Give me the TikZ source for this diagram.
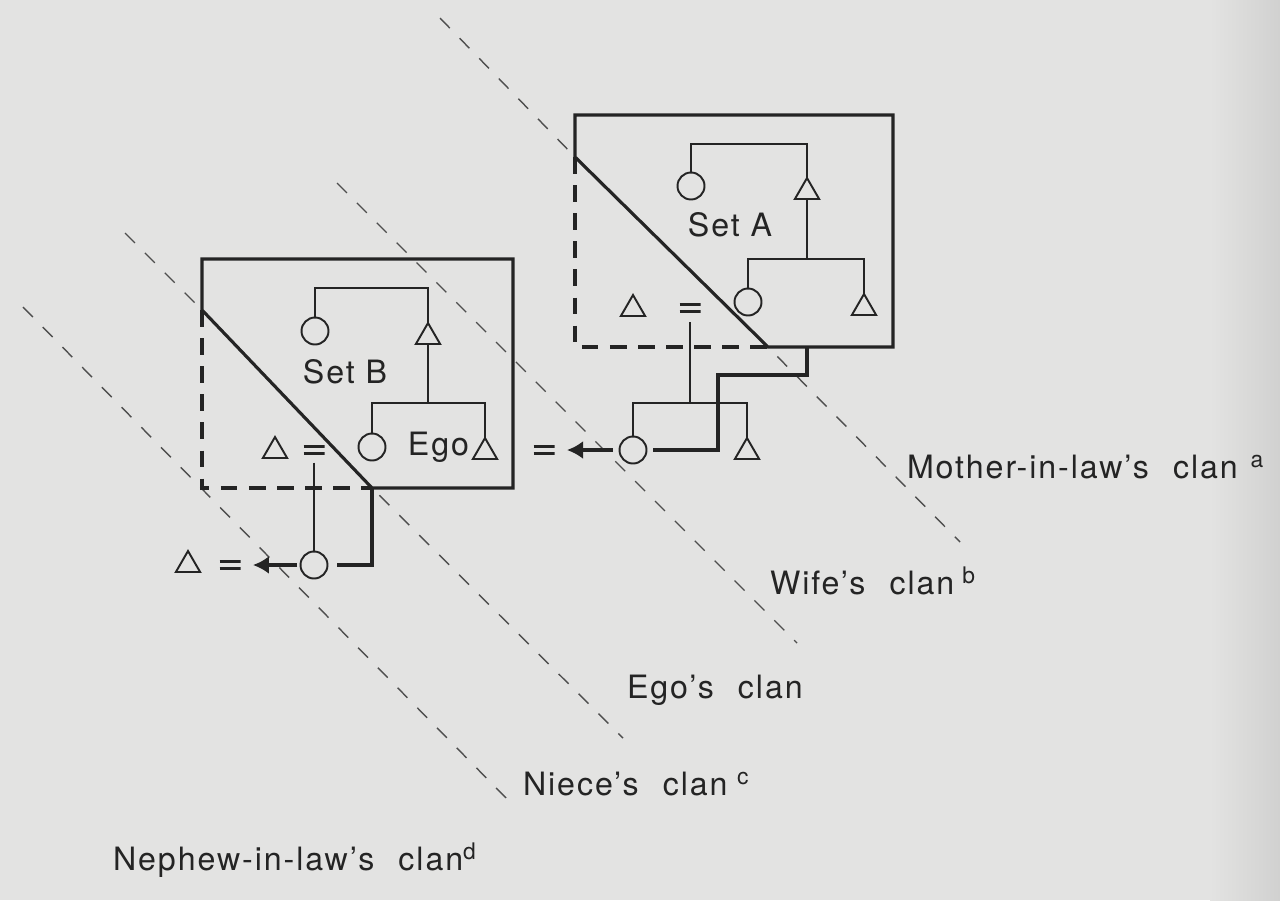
\documentclass[tikz,border=0pt]{standalone}
\usepackage{fontspec}
\setmainfont{TeX Gyre Heros}[LetterSpace=6]
\usetikzlibrary{shapes.geometric,arrows.meta}
\definecolor{paper}{RGB}{227,227,226}
\definecolor{ink}{RGB}{36,36,36}
\definecolor{clanline}{RGB}{78,78,78}
\newcommand{\supl}[1]{\raisebox{6pt}{\fontsize{13pt}{13pt}\selectfont #1}}
\begin{document}
\begin{tikzpicture}[x=0.02cm,y=-0.02cm,
  every node/.style={inner sep=0,outer sep=0},
  fem/.style={circle,draw=ink,line width=1.1pt,minimum size=0.54cm},
  male/.style={regular polygon,regular polygon sides=3,draw=ink,line width=1.1pt,minimum size=0.56cm},
  eqsign/.style={minimum width=0.42cm,minimum height=0.3cm,
    path picture={\draw[ink,line width=1.3pt]
      ([yshift=2pt]path picture bounding box.west) -- ([yshift=2pt]path picture bounding box.east)
      ([yshift=-2pt]path picture bounding box.west) -- ([yshift=-2pt]path picture bounding box.east);}},
  kin/.style={draw=ink,line width=1.1pt},
  frame/.style={draw=ink,line width=1.8pt,line join=miter},
  framedash/.style={draw=ink,line width=1.8pt,dash pattern=on 9.5pt off 6.5pt},
  stepline/.style={draw=ink,line width=1.8pt,line join=miter},
  arrowline/.style={draw=ink,line width=1.8pt,-{Latex[length=0.32cm,width=0.36cm]}},
  clan/.style={draw=clanline,line width=0.8pt,dash pattern=on 8pt off 8pt},
  lbl/.style={text=ink,font=\fontsize{18.3pt}{20pt}\selectfont},
  clanlbl/.style={lbl,anchor=base west}
]
\useasboundingbox (0,0) rectangle (1280,900);
\fill[paper] (0,0) rectangle (1280,900);
\shade[left color=paper,right color=paper!92!black] (1210,0) rectangle (1280,900);

% frame corners
\coordinate (A-d1) at (575,157);
\coordinate (A-d2) at (768,347);
\coordinate (B-d1) at (202,310);
\coordinate (B-d2) at (372,488);

% clan boundaries
\coordinate (L1s) at (440,18);  \coordinate (L1e) at (960,542);
\coordinate (L2s) at (337,183); \coordinate (L2e) at (797,643);
\coordinate (L3s) at (125,233); \coordinate (L3e) at (623,738);
\coordinate (L4s) at (23,307);  \coordinate (L4e) at (510,802);
\draw[clan] (L1s) -- (A-d1) -- (A-d2) -- (L1e);
\draw[clan] (L2s) -- (L2e);
\draw[clan] (L3s) -- (B-d1) -- (B-d2) -- (L3e);
\draw[clan] (L4s) -- (L4e);

% ---------- Set A ----------
\draw[frame] (A-d1) -- (575,115) -- (893,115) -- (893,347) -- (A-d2) -- cycle;
\draw[framedash] (A-d1) -- (575,347) -- (A-d2);
\node[fem] (cA1) at (691,186) {};
\node[male] (tA1) at (807,192) {};
\node[fem] (cA2) at (748,302) {};
\node[male] (tA2) at (864,308) {};
\node[male] (hA) at (633,309) {};
\node[eqsign] (eA) at (690,308) {};
\node[lbl,anchor=base] (setA) at (730,236) {Set A};
\coordinate (bA1) at (0,144);
\coordinate (bA2) at (0,259);
\draw[kin] (cA1.north) -- (cA1.north |- bA1) -| (tA1.corner 1);
\draw[kin] (tA1.side 2) -- (tA1.side 2 |- bA2) coordinate (jA);
\draw[kin] (cA2.north) -- (cA2.north |- bA2) -| (tA2.corner 1);

\node[fem] (cA3) at (633,450) {};
\node[male] (tA3) at (747,452) {};
\node[eqsign] (eA2) at (544,450) {};
\coordinate (dA) at (690,403);
\draw[kin] ([yshift=-0.13cm]eA.south) -- (dA);
\draw[kin] (cA3.north) |- (dA) -| (tA3.corner 1);
\draw[arrowline] ([xshift=-0.14cm]cA3.west) -- ([xshift=0.25cm]eA2.east);
\draw[stepline] (807,347) -- (807,375) -- (718,375) |- ([xshift=0.13cm]cA3.east);

% ---------- Set B ----------
\draw[frame] (B-d1) -- (202,259) -- (513,259) -- (513,488) -- (B-d2) -- cycle;
\draw[framedash] (B-d1) -- (202,488) -- (B-d2);
\node[fem] (cB1) at (315,331) {};
\node[male] (tB1) at (428,337) {};
\node[fem] (cB2) at (372,447) {};
\node[male] (tB2) at (485,452) {};
\node[male] (hB) at (275,451) {};
\node[eqsign] (eB) at (314,450) {};
\node[lbl,anchor=base] (setB) at (345,383) {Set B};
\node[lbl,anchor=base east] (ego) at (469,455) {Ego};
\coordinate (bB1) at (0,288);
\coordinate (bB2) at (0,403);
\draw[kin] (cB1.north) -- (cB1.north |- bB1) -| (tB1.corner 1);
\draw[kin] (tB1.side 2) -- (tB1.side 2 |- bB2) coordinate (jB);
\draw[kin] (cB2.north) -- (cB2.north |- bB2) -| (tB2.corner 1);

\node[fem] (cB3) at (314,565) {};
\node[eqsign] (eB2) at (230,565) {};
\node[male] (hB3) at (188,565) {};
\draw[kin] ([yshift=-0.1cm]eB.south) -- (cB3.north);
\draw[arrowline] ([xshift=-0.07cm]cB3.west) -- ([xshift=0.25cm]eB2.east);
\draw[stepline] (B-d2) -- (372,565) -- ([xshift=0.19cm]cB3.east);

% ---------- clan labels ----------
\node[clanlbl] (lmil) at (907,478) {Mother-in-law’s\hspace{0.75em}clan\hspace{0.4em}\supl{a}};
\node[clanlbl] (lwife) at (770,594) {Wife’s\hspace{0.75em}clan\hspace{0.25em}\supl{b}};
\node[clanlbl] (lego) at (627,698) {Ego’s\hspace{0.75em}clan};
\node[clanlbl] (lniece) at (523,795) {Niece’s\hspace{0.75em}clan\hspace{0.3em}\supl{c}};
\node[clanlbl] (lneph) at (113,870) {Nephew-in-law’s\hspace{0.75em}clan\supl{d}};
\end{tikzpicture}
\end{document}
